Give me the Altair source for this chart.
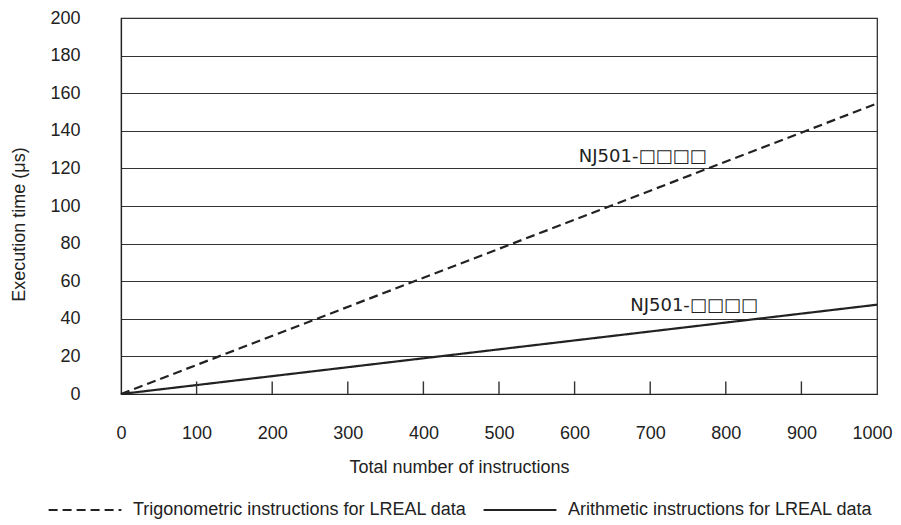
import altair as alt
import pandas as pd

# ---- data ----
x_points = [0, 1000]
trig_times = [0, 154.5]     # dashed: Trigonometric instructions for LREAL data
arith_times = [0, 47.5]     # solid: Arithmetic instructions for LREAL data
series_names = ["Trigonometric instructions for LREAL data",
                "Arithmetic instructions for LREAL data"]

label_texts = ["NJ501-□□□□", "NJ501-□□□□"]
label_x = [690, 758]
label_y = [126, 47]

x_ticks = [0, 100, 200, 300, 400, 500, 600, 700, 800, 900, 1000]
inner_ticks = [100, 200, 300, 400, 500, 600, 700, 800, 900]
y_ticks = [0, 20, 40, 60, 80, 100, 120, 140, 160, 180, 200]

FONT = "Liberation Sans"
INK = "#222222"
W, H = 756, 376

rows = []
for name, ys in zip(series_names, [trig_times, arith_times]):
    for xv, yv in zip(x_points, ys):
        rows.append({"series": name, "n": xv, "t": yv})
lines_df = pd.DataFrame(rows)
labels_df = pd.DataFrame({"text": label_texts, "n": label_x, "t": label_y})
ticks_df = pd.DataFrame({"n": inner_ticks})

xscale = alt.Scale(domain=[0, 1000], nice=False, zero=True)
yscale = alt.Scale(domain=[0, 200], nice=False)

x_axis = alt.Axis(values=x_ticks, format="d", grid=False, ticks=False, tickSize=0,
                  labelOverlap=False, labelFlush=False, labelPadding=30,
                  labelOffset={"condition": {"test": "datum.value == 1000", "value": -5},
                               "value": 0},
                  labelFontSize=18, labelFont=FONT, labelColor=INK,
                  domainColor=INK, domainWidth=1.2,
                  title="Total number of instructions", titleFont=FONT,
                  titleFontSize=18, titleFontWeight="normal", titleColor=INK,
                  titleX=338, titleY=73, titleBaseline="middle", titleAlign="center")
y_axis = alt.Axis(values=y_ticks, format="d", grid=True, gridColor="#333333", gridWidth=1,
                  ticks=False, tickSize=0, labelOverlap=False, labelFlush=False,
                  labelPadding=41, labelFontSize=18, labelFont=FONT, labelColor=INK,
                  domainColor=INK, domainWidth=1.2,
                  title="Execution time (μs)", titleFont=FONT, titleFontSize=18,
                  titleFontWeight="normal", titleColor=INK, titleAngle=-90,
                  titleX=-102, titleY=206, titleAlign="center", titleBaseline="middle")

lines = alt.Chart(lines_df).mark_line(strokeWidth=2.2, color=INK).encode(
    x=alt.X("n:Q", scale=xscale, axis=x_axis, title="Total number of instructions"),
    y=alt.Y("t:Q", scale=yscale, axis=y_axis, title="Execution time (μs)"),
    strokeDash=alt.StrokeDash(
        "series:N",
        scale=alt.Scale(domain=series_names, range=[[9, 5], [1, 0]]),
        legend=alt.Legend(
            title=None, orient="none", direction="horizontal",
            legendX=-74, legendY=454, symbolType="stroke", symbolSize=5300,
            symbolStrokeWidth=2.2, symbolStrokeColor=INK, labelFont=FONT,
            labelFontSize=18, labelColor=INK, labelOffset=10, labelLimit=600,
            columnPadding=12, padding=0,
        ),
    ),
    detail="series:N",
)

ticks = alt.Chart(ticks_df).mark_rule(color="#333333", strokeWidth=1.4).encode(
    x=alt.X("n:Q", scale=xscale, axis=x_axis, title="Total number of instructions"),
    y=alt.value(H),
    y2=alt.value(H - 12.6),
)

labels = alt.Chart(labels_df).mark_text(
    font="DejaVu Sans", fontSize=18, color=INK, align="center", baseline="middle"
).encode(
    x=alt.X("n:Q", scale=xscale, axis=x_axis, title="Total number of instructions"),
    y=alt.Y("t:Q", scale=yscale, axis=y_axis, title="Execution time (μs)"),
    text="text:N",
)

chart = alt.layer(lines, ticks, labels).properties(
    width=W, height=H,
    autosize=alt.AutoSizeParams(type="none"),
    padding={"left": 113, "top": 10, "right": 16, "bottom": 130},
    background="white",
).configure_view(stroke=INK, strokeWidth=1.2)

chart.save("out.html", embed_options={"renderer": "svg", "actions": False})
